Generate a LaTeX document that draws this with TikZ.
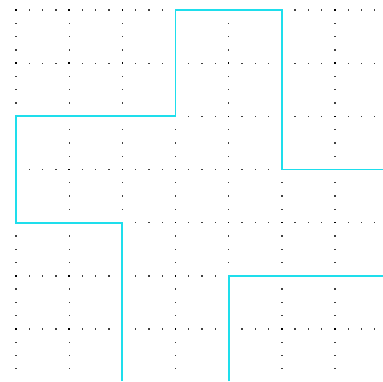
\documentclass[tikz,border=0pt]{standalone}
\definecolor{pipe}{RGB}{30,222,236}
\tikzset{
  minordot/.style={fill=black!75},
  majordot/.style={fill=black},
  pipeline/.style={draw=pipe,line width=1.8pt,line join=miter}
}
\begin{document}
\begin{tikzpicture}[x=1pt,y=-1pt]
\useasboundingbox (0,0) rectangle (383,381);
\def\mj{53.17}
\def\mn{13.29}
% row dots
\foreach \m in {0,...,6}{
  \foreach \i in {0,...,27}{
    \fill[minordot] ({16+\mn*\i-0.65},{10+\mj*\m-0.65}) rectangle ++(1.3,1.3);
  }
}
% column dots
\foreach \c in {0,...,6}{
  \foreach \j in {0,...,27}{
    \fill[minordot] ({16+\mj*\c-0.65},{10+\mn*\j-0.65}) rectangle ++(1.3,1.3);
  }
}
% intersections
\foreach \c in {0,...,6}{
  \foreach \m in {0,...,6}{
    \fill[majordot] ({16+\mj*\c-0.75},{10+\mj*\m-0.75}) rectangle ++(1.5,1.5);
  }
}
% pipes
\coordinate (a0) at ({16+2*\mj},381);
\coordinate (a1) at ({16+2*\mj},{10+4*\mj});
\coordinate (a2) at (16,{10+4*\mj});
\coordinate (a3) at (16,{10+2*\mj});
\coordinate (a4) at ({16+3*\mj},{10+2*\mj});
\coordinate (a5) at ({16+3*\mj},10);
\coordinate (a6) at ({16+5*\mj},10);
\coordinate (a7) at ({16+5*\mj},{10+3*\mj});
\coordinate (a8) at (383,{10+3*\mj});
\draw[pipeline] (a0) -- (a1) -- (a2) -- (a3) -- (a4) -- (a5) -- (a6) -- (a7) -- (a8);
\coordinate (b0) at ({16+4*\mj},381);
\coordinate (b1) at ({16+4*\mj},{10+5*\mj});
\coordinate (b2) at (383,{10+5*\mj});
\draw[pipeline] (b0) -- (b1) -- (b2);
\end{tikzpicture}
\end{document}
